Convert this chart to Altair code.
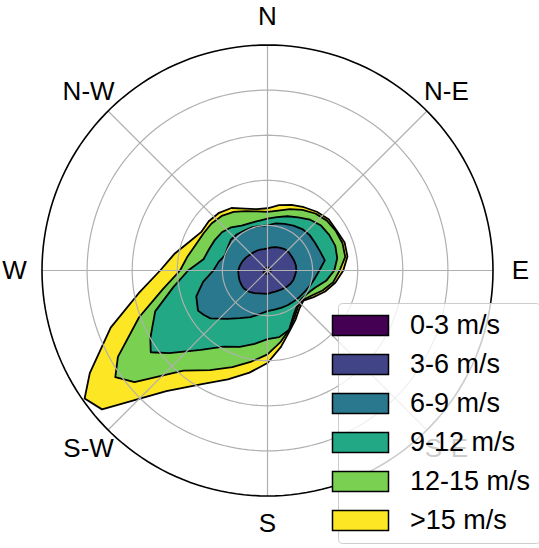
import altair as alt
import pandas as pd

# direction (degrees clockwise from north) at which each contour radius was read
angles = [0, 10, 20, 30, 40, 50, 60, 70, 80, 90, 100, 110, 120, 130, 140, 150, 160, 170,
          180, 190, 200, 210, 220, 230, 235, 240, 250, 260, 270, 280, 290, 300, 310, 320,
          330, 340, 350]

levels = ["0-3 m/s", "3-6 m/s", "6-9 m/s", "9-12 m/s", "12-15 m/s", ">15 m/s"]
colors = ["#440154", "#414487", "#2a788e", "#22a884", "#7ad151", "#fde725"]

# cumulative frequency (radial units) per level
r_0_3 = [0.07, 0.07, 0.07, 0.07, 0.07, 0.07, 0.07, 0.07, 0.07, 0.07, 0.07, 0.07, 0.07,
         0.07, 0.07, 0.07, 0.07, 0.07, 0.07, 0.07, 0.08, 0.08, 0.09, 0.10, 0.10, 0.10,
         0.09, 0.08, 0.08, 0.07, 0.07, 0.07, 0.07, 0.07, 0.07, 0.07, 0.07]
r_3_6 = [0.49, 0.52, 0.55, 0.58, 0.61, 0.62, 0.62, 0.63, 0.64, 0.64, 0.62, 0.61, 0.59,
         0.56, 0.53, 0.51, 0.50, 0.50, 0.52, 0.52, 0.54, 0.58, 0.62, 0.65, 0.66, 0.66,
         0.66, 0.65, 0.65, 0.62, 0.59, 0.56, 0.53, 0.51, 0.50, 0.49, 0.48]
r_6_9 = [1.00, 1.06, 1.10, 1.15, 1.20, 1.22, 1.22, 1.24, 1.29, 1.15, 1.06, 1.00, 0.95,
         0.92, 0.90, 0.89, 0.88, 0.88, 0.90, 0.98, 1.10, 1.22, 1.40, 1.65, 1.72, 1.78,
         1.68, 1.45, 1.20, 1.10, 1.00, 1.02, 1.06, 1.05, 1.02, 1.02, 1.00]
r_9_12 = [1.15, 1.20, 1.28, 1.36, 1.47, 1.55, 1.58, 1.60, 1.57, 1.48, 1.32, 1.12, 1.02,
          0.98, 1.02, 1.15, 1.40, 1.50, 1.52, 1.65, 1.80, 1.95, 2.30, 2.85, 3.16, 3.00,
          2.65, 2.12, 1.76, 1.44, 1.38, 1.35, 1.32, 1.25, 1.15, 1.12, 1.12]
r_12_15 = [1.30, 1.35, 1.45, 1.55, 1.65, 1.72, 1.75, 1.77, 1.75, 1.60, 1.48, 1.30, 1.12,
           1.02, 1.05, 1.20, 1.40, 1.62, 1.86, 2.05, 2.28, 2.55, 2.90, 3.85, 4.12, 3.83,
           3.03, 2.35, 1.94, 1.80, 1.69, 1.64, 1.62, 1.58, 1.50, 1.40, 1.33]
r_15p = [1.38, 1.47, 1.55, 1.62, 1.70, 1.77, 1.77, 1.82, 1.80, 1.68, 1.53, 1.36, 1.18,
         1.04, 1.10, 1.25, 1.43, 1.72, 2.05, 2.30, 2.57, 2.91, 3.49, 4.79, 4.95, 4.55,
         3.70, 2.90, 2.38, 2.10, 1.85, 1.70, 1.70, 1.67, 1.60, 1.46, 1.38]
radii = [r_0_3, r_3_6, r_6_9, r_9_12, r_12_15, r_15p]

directions = ["N", "N-E", "E", "S-E", "S", "S-W", "W", "N-W"]
dir_angles = [0, 45, 90, 135, 180, 225, 270, 315]
rings = [1, 2, 3, 4, 5]
R_MAX = 5
LABEL_R = 5.61

rows = []
for lab, rs in zip(levels, radii):
    for i, (a, r) in enumerate(zip(angles + [angles[0] + 360], rs + [rs[0]])):
        rows.append({"level": lab, "angle": a, "r": r, "idx": i})
df = pd.DataFrame(rows)

ring_rows = []
for rg in rings:
    for a in range(0, 361, 2):
        ring_rows.append({"ring": rg, "angle": a, "r": rg, "outer": rg == R_MAX})
ring_df = pd.DataFrame(ring_rows)

spoke_rows = []
for a in dir_angles:
    spoke_rows.append({"spoke": a, "angle": a, "r": 0})
    spoke_rows.append({"spoke": a, "angle": a, "r": R_MAX})
spoke_df = pd.DataFrame(spoke_rows)

lab_df = pd.DataFrame({"label": directions, "angle": dir_angles, "r": LABEL_R})

X = alt.X("x:Q", scale=alt.Scale(domain=[-R_MAX, R_MAX], nice=False, zero=False), axis=None)
Y = alt.Y("y:Q", scale=alt.Scale(domain=[-R_MAX, R_MAX], nice=False, zero=False), axis=None)
calc = dict(x="datum.r*sin(datum.angle*PI/180)", y="datum.r*cos(datum.angle*PI/180)")

legend = alt.Legend(
    title=None, orient="none", legendX=296, legendY=258,
    symbolType="M-2.8,-1H2.8V1H-2.8Z", symbolSize=400,
    symbolStrokeColor="black", symbolStrokeWidth=1.5, symbolOpacity=1,
    labelFont="Liberation Sans", labelFontSize=27, labelColor="black",
    labelOffset=36, rowPadding=11, padding=9,
    fillColor="rgba(255,255,255,0.8)", strokeColor="#cccccc", cornerRadius=4,
)

layers = []
for lab in reversed(levels):
    layers.append(
        alt.Chart(df).transform_calculate(**calc)
        .transform_filter(alt.datum.level == lab)
        .mark_line(color="black", strokeWidth=1.8, strokeJoin="round")
        .encode(x=X, y=Y, order="idx:Q",
                fill=alt.Fill("level:N", scale=alt.Scale(domain=levels, range=colors),
                              legend=legend))
    )

inner_rings = alt.Chart(ring_df).transform_calculate(**calc).transform_filter(
    "!datum.outer").mark_line(color="#b0b0b0", strokeWidth=1.2).encode(
    x=X, y=Y, detail="ring:N", order="angle:Q")
spokes = alt.Chart(spoke_df).transform_calculate(**calc).mark_line(
    color="#b0b0b0", strokeWidth=1.2).encode(x=X, y=Y, detail="spoke:N", order="r:Q")
outer = alt.Chart(ring_df).transform_calculate(**calc).transform_filter(
    "datum.outer").mark_line(color="black", strokeWidth=1.6).encode(
    x=X, y=Y, detail="ring:N", order="angle:Q")
labels = alt.Chart(lab_df).transform_calculate(**calc).mark_text(
    font="Liberation Sans", fontSize=26, color="black", align="center",
    baseline="middle").encode(x=X, y=Y, text="label:N")

chart = alt.layer(*layers, inner_rings, spokes, outer, labels).properties(
    width=451, height=451,
    autosize=alt.AutoSizeParams(type="none"),
    padding={"left": 42, "top": 45, "right": 46, "bottom": 52},
    background="white",
).configure_view(stroke=None)

chart.save("out.html", embed_options={"renderer": "svg", "actions": False})
